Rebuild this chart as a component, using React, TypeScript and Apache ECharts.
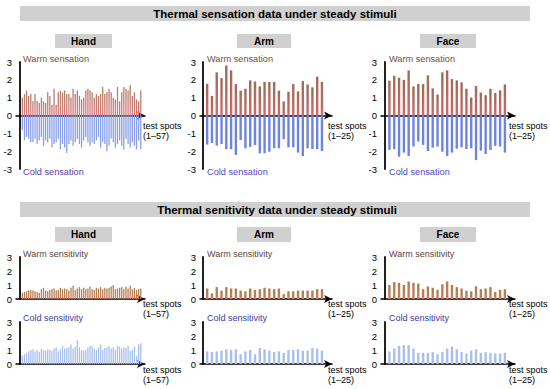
import React, { useEffect, useRef } from "react";
import * as echarts from "echarts";

const handWarmSensation = [
  1.0, 1.2, 1.4, 1.1, 1.2, 0.8, 1.2, 0.8, 0.7, 1.0,
  0.8, 0.7, 1.3, 1.1, 0.6, 1.5, 0.6, 1.3, 1.4, 1.3,
  1.4, 1.2, 1.2, 1.0, 1.5, 1.2, 1.4, 1.1, 0.9, 1.0,
  1.4, 1.5, 1.4, 1.3, 1.0, 1.2, 1.1, 1.2, 1.6, 1.2,
  1.3, 1.5, 1.3, 1.0, 0.9, 1.6, 0.8, 1.3, 1.6, 1.5,
  1.4, 1.7, 1.1, 1.3, 0.9, 0.8, 1.4,
];
const handColdSensation = [
  -0.8, -1.4, -1.2, -1.3, -1.5, -1.5, -1.3, -1.6, -1.4, -1.2,
  -1.7, -1.4, -1.5, -1.3, -1.8, -1.6, -1.5, -1.3, -1.9, -1.6,
  -1.8, -2.1, -1.6, -1.4, -1.7, -1.5, -1.3, -1.6, -1.8, -1.4,
  -1.2, -1.5, -1.7, -1.5, -1.6, -1.4, -1.2, -1.8, -1.5, -1.6,
  -2.0, -1.7, -1.3, -1.5, -1.8, -1.6, -1.4, -1.7, -1.9, -1.3,
  -1.6, -1.8, -1.5, -1.7, -1.9, -1.4, -1.9,
];
const armWarmSensation = [
  1.78, 1.1, 2.42, 2.1, 2.8, 2.53, 1.76, 1.39, 1.5, 1.97,
  1.9, 1.63, 1.88, 1.88, 1.88, 1.39, 0.79, 1.33, 1.76, 1.35,
  1.93, 1.74, 1.58, 2.18, 1.88,
];
const armColdSensation = [
  -1.63, -1.54, -1.69, -1.6, -1.89, -1.89, -2.21, -1.37, -1.84, -1.76,
  -1.65, -2.12, -2.12, -2.03, -1.84, -1.84, -1.33, -1.78, -1.78, -2.08,
  -2.27, -1.84, -1.88, -1.89, -2.0,
];
const faceWarmSensation = [
  1.95, 2.23, 2.12, 2.0, 2.53, 1.63, 1.76, 1.76, 2.25, 1.52,
  1.18, 2.42, 2.53, 2.04, 1.97, 1.86, 1.5, 1.01, 1.65, 1.28,
  1.14, 1.5, 1.26, 1.41, 1.74,
];
const faceColdSensation = [
  -1.93, -1.89, -2.31, -2.08, -2.27, -1.74, -1.46, -1.65, -1.99, -1.8,
  -1.74, -2.03, -2.27, -2.08, -1.86, -1.78, -1.88, -1.84, -2.5, -1.97,
  -2.16, -1.93, -1.7, -1.74, -2.08,
];
const handWarmSensitivity = [
  0.45, 0.5, 0.55, 0.6, 0.65, 0.6, 0.55, 0.5, 0.45, 0.7,
  0.8, 0.6, 0.55, 0.65, 0.7, 0.75, 0.6, 0.65, 0.8, 0.7,
  0.75, 0.7, 0.6, 0.8, 0.95, 0.65, 0.75, 0.85, 0.7, 0.8,
  0.7, 0.75, 0.9, 0.7, 0.65, 0.8, 0.75, 0.85, 0.7, 0.8,
  0.75, 0.8, 0.9, 1.0, 0.7, 0.75, 0.8, 0.85, 0.7, 0.9,
  0.75, 0.95, 0.7, 0.8, 0.65, 0.7, 0.75,
];
const handColdSensitivity = [
  0.6, 0.7, 0.8, 0.9, 1.0, 1.05, 0.9, 1.0, 0.85, 1.1,
  1.0, 0.95, 1.05, 1.0, 0.95, 1.1, 1.2, 0.9, 1.05, 1.3,
  1.1, 1.15, 1.2, 1.4, 1.1, 1.25, 1.7, 1.2, 1.0, 0.95,
  1.0, 1.2, 1.3, 1.3, 1.1, 1.0, 1.2, 1.4, 1.0, 1.15,
  1.2, 1.3, 1.1, 1.2, 1.0, 1.3, 1.25, 1.1, 1.2, 1.15,
  1.3, 0.95, 1.0, 1.25, 0.6, 1.4, 1.5,
];
const armWarmSensitivity = [
  0.75, 0.4, 0.85, 0.6, 0.85, 0.75, 0.75, 0.6, 0.55, 0.75,
  0.65, 0.7, 0.8, 0.75, 0.7, 0.75, 0.35, 0.55, 0.55, 0.6,
  0.6, 0.6, 0.6, 0.7, 0.7,
];
const armColdSensitivity = [
  0.9, 0.85, 0.9, 0.95, 1.05, 1.0, 1.05, 0.7, 0.9, 1.0,
  0.7, 1.15, 1.05, 0.95, 0.85, 0.9, 0.8, 1.0, 1.0, 1.05,
  0.95, 0.95, 1.15, 1.1, 0.95,
];
const faceWarmSensitivity = [
  1.0, 1.2, 1.15, 1.0, 1.25, 1.15, 1.1, 0.7, 0.9, 0.8,
  0.65, 1.05, 1.25, 1.0, 0.85, 0.75, 0.6, 0.55, 0.9, 0.7,
  0.75, 0.85, 0.5, 0.65, 0.7,
];
const faceColdSensitivity = [
  0.9, 1.1, 1.3, 1.35, 1.35, 1.1, 0.8, 0.8, 0.8, 0.85,
  0.7, 0.85, 1.1, 1.25, 1.05, 0.85, 0.75, 0.95, 1.05, 0.8,
  0.85, 0.8, 0.75, 0.75, 0.8,
];

const bodyParts = ["Hand", "Arm", "Face"];
const spotRanges = ["(1–57)", "(1–25)", "(1–25)"];
const sectionTitles = [
  "Thermal sensation data under steady stimuli",
  "Thermal senitivity data under steady stimuli",
];

const FONT = "'Liberation Sans', Arial, Helvetica, sans-serif";

export default function App() {
  const ref = useRef<HTMLDivElement>(null);

  useEffect(() => {
    if (!ref.current) return;
    const chart = echarts.init(ref.current, undefined, { renderer: "svg" });

    const cols = [
      { left: 16, width: 129, min: -2, max: 59, barWidth: 1.3, textX: 23, spotX: 143 },
      { left: 200, width: 132, min: -0.5, max: 27.1, barWidth: 2.4, textX: 207, spotX: 328 },
      { left: 381, width: 134, min: -0.75, max: 27.1, barWidth: 2.4, textX: 389, spotX: 509 },
    ];
    const rows = [
      { top: 62, height: 107, min: -3, max: 3 },
      { top: 257, height: 42, min: 0, max: 3 },
      { top: 322, height: 42, min: 0, max: 3 },
    ];

    const sensWarm = [handWarmSensation, armWarmSensation, faceWarmSensation];
    const sensCold = [handColdSensation, armColdSensation, faceColdSensation];
    const sensiWarm = [handWarmSensitivity, armWarmSensitivity, faceWarmSensitivity];
    const sensiCold = [handColdSensitivity, armColdSensitivity, faceColdSensitivity];

    const warmGrad = (light: boolean) =>
      new echarts.graphic.LinearGradient(0, 0, 0, 1, [
        { offset: 0, color: light ? "#b07c68" : "#9a6c58" },
        { offset: 1, color: light ? "#dc7c7c" : "#d26868" },
      ]);
    const warmSensiGrad = () =>
      new echarts.graphic.LinearGradient(0, 0, 0, 1, [
        { offset: 0, color: "#a8804c" },
        { offset: 1, color: "#d07a5e" },
      ]);

    const grids: any[] = [];
    const xAxes: any[] = [];
    const yAxes: any[] = [];
    const series: any[] = [];

    rows.forEach((r, ri) => {
      cols.forEach((c, ci) => {
        const idx = grids.length;
        grids.push({ left: c.left, top: r.top, width: c.width, height: r.height, containLabel: false });
        xAxes.push({
          type: "value",
          gridIndex: idx,
          min: c.min,
          max: c.max,
          axisLine: {
            show: true,
            onZero: true,
            symbol: ["none", "arrow"],
            symbolSize: [6, 8],
            lineStyle: { color: "#000", width: 1.5 },
          },
          axisTick: { show: false },
          axisLabel: { show: false },
          splitLine: { show: false },
        });
        yAxes.push({
          type: "value",
          gridIndex: idx,
          min: r.min,
          max: r.max,
          interval: 1,
          axisLine: { show: true, lineStyle: { color: "#222", width: 2 } },
          axisTick: { show: false },
          axisLabel: { fontSize: 9.5, color: "#000", margin: 4, fontFamily: FONT },
          splitLine: { show: false },
        });
        const mk = (arr: number[]) => arr.map((v, i) => [i + 1, v]);
        if (ri === 0) {
          series.push({
            type: "bar",
            xAxisIndex: idx,
            yAxisIndex: idx,
            barWidth: c.barWidth,
            barGap: "-100%",
            data: mk(sensWarm[ci]),
            itemStyle: { color: warmGrad(ci === 0) },
          });
          series.push({
            type: "bar",
            xAxisIndex: idx,
            yAxisIndex: idx,
            barWidth: c.barWidth,
            barGap: "-100%",
            data: mk(sensCold[ci]),
            itemStyle: { color: ci === 0 ? "#8a9fe8" : "#6e84e2" },
          });
        } else if (ri === 1) {
          series.push({
            type: "bar",
            xAxisIndex: idx,
            yAxisIndex: idx,
            barWidth: c.barWidth,
            data: mk(sensiWarm[ci]),
            itemStyle: { color: warmSensiGrad() },
          });
        } else {
          series.push({
            type: "bar",
            xAxisIndex: idx,
            yAxisIndex: idx,
            barWidth: c.barWidth,
            data: mk(sensiCold[ci]),
            itemStyle: { color: "#a9c0ec" },
          });
        }
      });
    });

    const txt = (text: string, x: number, y: number, size: number, color: string, bold = false, align = "left") => ({
      type: "text",
      x,
      y,
      silent: true,
      style: {
        text,
        fill: color,
        font: `${bold ? "bold " : ""}${size}px ${FONT}`,
        align,
        textAlign: align,
        verticalAlign: "middle",
        textVerticalAlign: "middle",
      },
    });
    const rect = (x: number, y: number, w: number, h: number) => ({
      type: "rect",
      silent: true,
      shape: { x, y, width: w, height: h },
      style: { fill: "#d0d0d0" },
    });

    const graphics: any[] = [];
    graphics.push(rect(20, 6, 510, 15));
    graphics.push(txt(sectionTitles[0], 275, 13.5, 11.5, "#000", true, "center"));
    graphics.push(rect(20, 202, 510, 15));
    graphics.push(txt(sectionTitles[1], 277, 209.5, 11.5, "#000", true, "center"));

    const boxes = [
      { x: 55, w: 57 },
      { x: 237, w: 54 },
      { x: 420, w: 56 },
    ];
    boxes.forEach((b, i) => {
      graphics.push(rect(b.x, 34, b.w, 14));
      graphics.push(txt(bodyParts[i], b.x + b.w / 2, 41, 10, "#000", true, "center"));
      graphics.push(rect(b.x, 227, b.w, 15));
      graphics.push(txt(bodyParts[i], b.x + b.w / 2, 234.5, 10, "#000", true, "center"));
    });

    cols.forEach((c, i) => {
      graphics.push(txt("Warm sensation", c.textX, 59, 9.2, "#7a4a3c"));
      graphics.push(txt("Cold sensation", c.textX, 172, 9.2, i === 0 ? "#5a3c9c" : "#5548c8"));
      graphics.push(txt("Warm sensitivity", c.textX, 253.5, 9, "#5c4436"));
      graphics.push(txt("Cold sensitivity", c.textX, 317.5, 9, "#3c3ca4"));
      graphics.push(txt("test spots", c.spotX, 125.5, 9, "#000"));
      graphics.push(txt(spotRanges[i], c.spotX, 136, 9, "#000"));
      graphics.push(txt("test spots", c.spotX, 304, 9, "#000"));
      graphics.push(txt(spotRanges[i], c.spotX, 313.5, 9, "#000"));
      graphics.push(txt("test spots", c.spotX, 370, 9, "#000"));
      graphics.push(txt(spotRanges[i], c.spotX, 379.5, 9, "#000"));
    });

    chart.setOption({
      animation: false,
      backgroundColor: "#ffffff",
      grid: grids,
      xAxis: xAxes,
      yAxis: yAxes,
      series,
      graphic: graphics,
    });

    return () => chart.dispose();
  }, []);

  return (
    <div
      ref={ref}
      style={{ position: "absolute", left: 0, top: 0, width: 550, height: 389 }}
    />
  );
}
